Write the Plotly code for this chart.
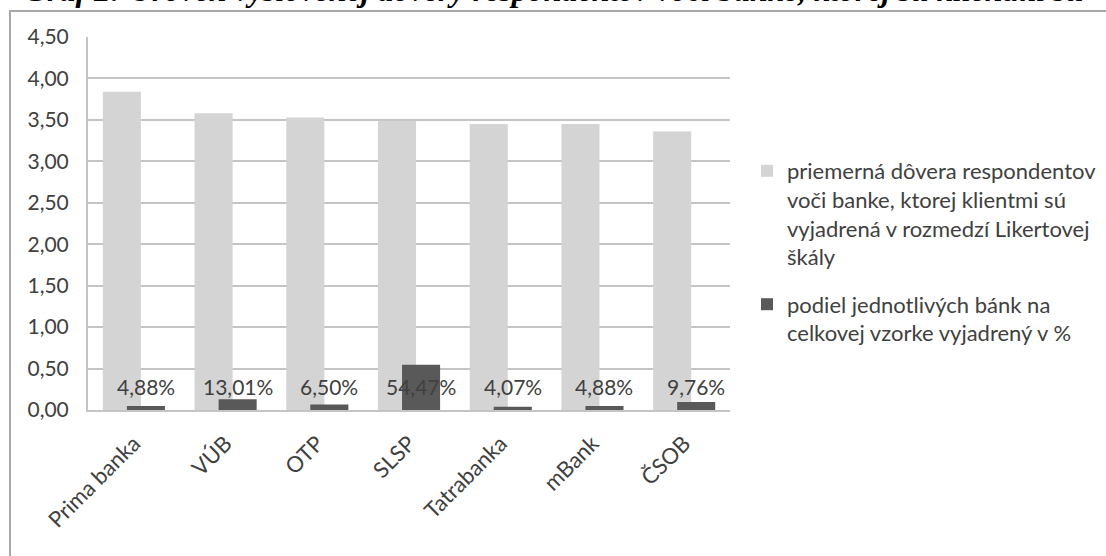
import numpy as np
import plotly.graph_objects as go

categories = ["Prima banka", "VÚB", "OTP", "SLSP", "Tatrabanka", "mBank", "ČSOB"]
trust_avg = [3.84, 3.58, 3.53, 3.49, 3.45, 3.45, 3.36]
share_pct = [4.88, 13.01, 6.50, 54.47, 4.07, 4.88, 9.76]

name_trust = ("priemerná dôvera respondentov<br>voči banke, ktorej klientmi sú<br>"
              "vyjadrená v rozmedzí Likertovej<br>škály")
name_share = "podiel jednotlivých bánk na<br>celkovej vzorke vyjadrený v %"
title_text = "Graf 2: Úroveň vyslovenej dôvery respondentov voči banke, ktorej sú klientmi sú"

W, H = 1106, 556
L, R, T, B = 88, 376, 37, 146
PW, PH = W - L - R, H - T - B


def px_x(p):
    return (p - L) / PW


def px_y(p):
    return (H - B - p) / PH


FONT = "Lato"
TXT = "#404040"
LIGHT = "#d4d4d4"
DARK = "#595959"

xpos = np.arange(len(categories))
share_frac = [v / 100 for v in share_pct]
BW = 0.415
OFF_L = -0.338
OFF_D = -0.076

fig = go.Figure()
fig.add_trace(go.Bar(x=xpos, y=trust_avg, name=name_trust, marker_color=LIGHT,
                     width=BW, offset=OFF_L, marker_line_width=0, legendgroup="a"))
fig.add_trace(go.Bar(x=xpos, y=share_frac, name=name_share, marker_color=DARK,
                     width=BW, offset=OFF_D, marker_line_width=0, legendgroup="b"))

LABEL_Y = 0.28
annotations = []
for i, v in enumerate(share_pct):
    annotations.append(dict(x=xpos[i] + OFF_D + BW / 2, y=LABEL_Y, xref="x", yref="y",
                            text=f"{v:.2f}%".replace(".", ","), showarrow=False,
                            font=dict(family=FONT, size=21, color=TXT),
                            xanchor="center", yanchor="middle"))

annotations.append(dict(x=px_x(22), y=px_y(10), xref="paper", yref="paper",
                        text=f"<b><i>{title_text}</i></b>", showarrow=False,
                        xanchor="left", yanchor="bottom",
                        font=dict(family="Liberation Serif", size=32, color="black")))

fig.update_layout(
    width=W, height=H,
    margin=dict(l=L, r=R, t=T, b=B, pad=0, autoexpand=False),
    paper_bgcolor="white", plot_bgcolor="white",
    barmode="overlay",
    separators=",.",
    showlegend=True,
    legend=dict(x=px_x(747), y=px_y(150), xanchor="left", yanchor="top",
                valign="top", tracegroupgap=16, bgcolor="rgba(0,0,0,0)",
                font=dict(family=FONT, size=22, color=TXT)),
    annotations=annotations,
    shapes=[dict(type="rect", xref="paper", yref="paper",
                 x0=px_x(10), x1=px_x(1300), y0=px_y(700), y1=px_y(11),
                 line=dict(color="#a8a8a8", width=2), layer="below")],
    xaxis=dict(range=[-0.5, len(categories) - 0.5], tickvals=xpos, ticktext=categories,
               tickangle=-45, showgrid=False, zeroline=False, ticks="",
               showline=True, linecolor="#c4c4c4", linewidth=2,
               ticklabelstandoff=10,
               tickfont=dict(family=FONT, size=22, color=TXT)),
    yaxis=dict(range=[0, 4.5], dtick=0.5, tick0=0, tickformat=".2f",
               showgrid=True, gridcolor="#c4c4c4", gridwidth=2, zeroline=False,
               showline=True, linecolor="#c4c4c4", linewidth=2, ticks="",
               ticklabelstandoff=13,
               tickfont=dict(family=FONT, size=21, color=TXT)),
)

fig.write_html("out.html")
